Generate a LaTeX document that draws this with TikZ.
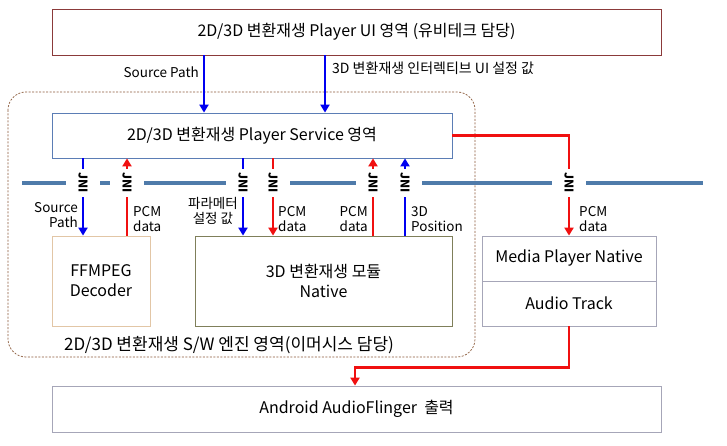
\documentclass[tikz,border=0pt]{standalone}
\usepackage{fontspec}
\setmainfont{Noto Sans CJK KR}
\usetikzlibrary{arrows.meta, positioning, calc}
\definecolor{uiborder}{HTML}{8B3A3A}
\definecolor{svcborder}{HTML}{5B7DB5}
\definecolor{ffmborder}{HTML}{E2C6A6}
\definecolor{modborder}{HTML}{7F7F5A}
\definecolor{grayborder}{HTML}{A6A6B8}
\definecolor{engineborder}{HTML}{8B5A3A}
\definecolor{jniline}{HTML}{4F7BAA}
\definecolor{arrblue}{HTML}{0000F0}
\definecolor{arrred}{HTML}{F01010}
\tikzset{
  box/.style={draw, fill=white, line width=0.8pt, align=center, inner sep=0pt, font=\fontsize{16}{20}\selectfont},
  bluearr/.style={draw=arrblue, line width=2.6pt, -{Triangle[length=8pt,width=9pt]}},
  redarr/.style={draw=arrred, line width=2.6pt, -{Triangle[length=8pt,width=9pt]}},
  jni/.style={fill=white, rotate=-90, font=\fontsize{12}{13}\selectfont\bfseries, inner xsep=4pt, inner ysep=12pt},
  lbl/.style={font=\fontsize{13.5}{15.5}\selectfont, inner sep=0pt},
}
\begin{document}
\begin{tikzpicture}[x=1pt, y=-1pt]
\useasboundingbox[fill=white] (0,0) rectangle (727,446);

\draw[engineborder, dashed, dash pattern=on 2pt off 1.5pt, line width=0.7pt, rounded corners=18pt] (8,92) rectangle (475,357);
\node[font=\fontsize{17}{20}\selectfont] (enginelbl) at (229,345) {2D/3D 변환재생 S/W 엔진 영역(이머시스 담당)};

\node[box, draw=uiborder, minimum width=609, minimum height=46] (ui) at (356.5,32) {2D/3D 변환재생 Player UI 영역 (유비테크 담당)};
\node[box, draw=svcborder, minimum width=400, minimum height=45] (svc) at (252,135.5) {2D/3D 변환재생 Player Service 영역};
\node[box, draw=ffmborder, minimum width=98, minimum height=90] (ffm) at (101,281) {FFMPEG\\Decoder};
\node[box, draw=modborder, minimum width=257, minimum height=90] (mod) at (323.5,281) {3D 변환재생 모듈\\Native};
\node[box, draw=grayborder, minimum width=174, minimum height=45] (media) at (569,258.5) {Media Player Native};
\node[box, draw=grayborder, minimum width=174, minimum height=45] (audio) at (569,303.5) {Audio Track};
\node[box, draw=grayborder, minimum width=609, minimum height=46] (android) at (356.5,409) {Android AudioFlinger\ \ 출력};

\draw[jniline, line width=3.5pt] (22,183) -- (703,183);

\draw[bluearr] (ui.south -| 204,0) -- (svc.north -| 204,0);
\draw[bluearr] (ui.south -| 325,0) -- (svc.north -| 325,0);
\node[lbl, anchor=east] (srcpath) at (199,72) {Source Path};
\node[lbl, anchor=west, font=\fontsize{14}{16}\selectfont] (uiset) at (332,68) {3D 변환재생 인터렉티브 UI 설정 값};

\draw[bluearr] (svc.south -| 83,0) -- (ffm.north -| 83,0);
\draw[redarr] (ffm.north -| 127,0) -- (svc.south -| 127,0);
\draw[bluearr] (svc.south -| 243,0) -- (mod.north -| 243,0);
\draw[redarr] (svc.south -| 273,0) -- (mod.north -| 273,0);
\draw[redarr] (mod.north -| 373,0) -- (svc.south -| 373,0);
\draw[bluearr] (mod.north -| 405,0) -- (svc.south -| 405,0);
\draw[redarr] (svc.east) -| (media.north);
\draw[redarr] (audio.south) -- ++(0,41) -| (android.north -| 355,0);

\node[jni] (jni1) at (83,183) {JNI};
\node[jni] (jni2) at (127,183) {JNI};
\node[jni] (jni3) at (243,183) {JNI};
\node[jni] (jni4) at (273,183) {JNI};
\node[jni] (jni5) at (373,183) {JNI};
\node[jni] (jni6) at (405,183) {JNI};
\node[jni] (jni7) at (569,183) {JNI};

\node[lbl, anchor=east, align=right] (l1) at (78,215) {Source\\Path};
\node[lbl, anchor=west, align=left] (l2) at (133,219) {PCM\\data};
\node[lbl, anchor=east, align=center] (l3) at (238,211) {파라메터\\설정 값};
\node[lbl, anchor=west, align=left] (l4) at (278,219) {PCM\\data};
\node[lbl, anchor=east, align=left] (l5) at (368,219) {PCM\\data};
\node[lbl, anchor=west, align=left] (l6) at (411,219) {3D\\Position};
\node[lbl, anchor=west, align=left] (l7) at (579,219) {PCM\\data};
\end{tikzpicture}
\end{document}
